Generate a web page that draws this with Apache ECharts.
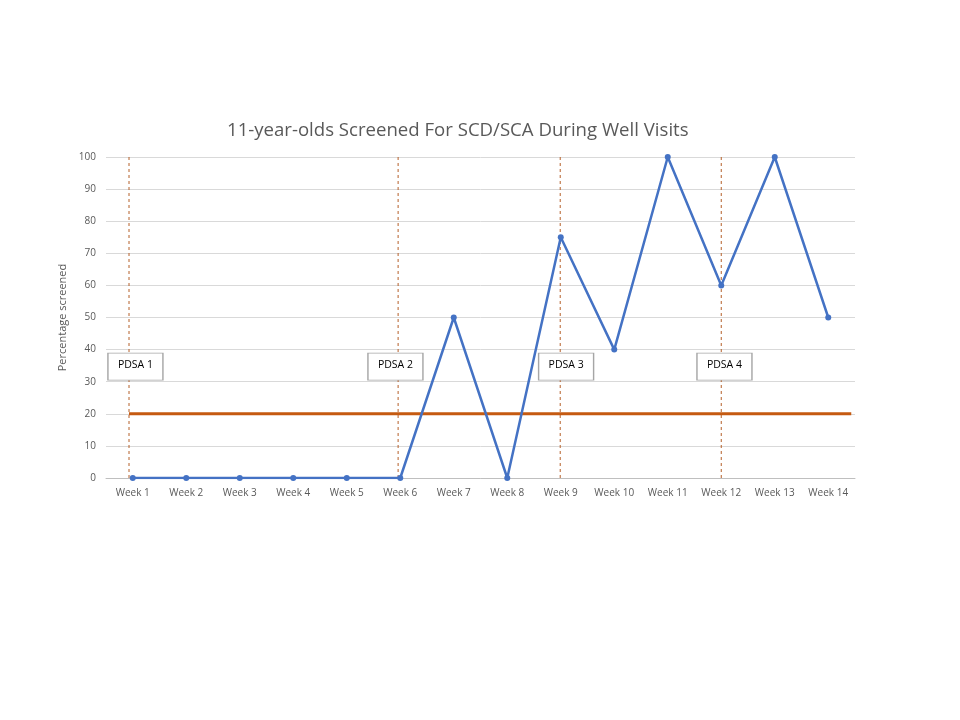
<!DOCTYPE html>
<html>
<head>
<meta charset="utf-8">
<script src="https://cdn.jsdelivr.net/npm/echarts@6/dist/echarts.min.js"></script>
<style>html,body{margin:0;padding:0;background:#fff;}#c{width:960px;height:720px;}</style>
</head>
<body>
<div id="c"></div>
<script>
const titleText = '11-year-olds Screened For SCD/SCA During Well Visits';
const weeks = ['Week 1','Week 2','Week 3','Week 4','Week 5','Week 6','Week 7','Week 8','Week 9','Week 10','Week 11','Week 12','Week 13','Week 14'];
const screened = [0,0,0,0,0,0,50,0,75,40,100,60,100,50];
const goalValue = 20;
const goalStartEnd = [0.43, 13.93];           // positions on the hidden 0..14 week axis
const pdsaLabels = ['PDSA 1','PDSA 2','PDSA 3','PDSA 4'];
const pdsaLinePos = [0.43, 5.46, 8.49, 11.5];  // vertical dashed lines
const pdsaBoxX = [0.55, 5.41, 8.6, 11.56];     // label box centres
const pdsaBoxY = [34.7, 34.7, 34.7, 34.7];
const yTicks = [0,10,20,30,40,50,60,70,80,90,100];

const chart = echarts.init(document.getElementById('c'));
const font = '"Open Sans", "Noto Sans", sans-serif';
const series = [
  {
    type: 'line', name: 'Screened', data: screened,
    xAxisIndex: 0, yAxisIndex: 0,
    lineStyle: {color: '#4472C4', width: 2.5},
    itemStyle: {color: '#4472C4'},
    symbol: 'circle', symbolSize: 6, z: 5
  },
  {
    type: 'line', name: 'Goal', xAxisIndex: 1, yAxisIndex: 0,
    data: goalStartEnd.map(x => [x, goalValue]),
    lineStyle: {color: '#C55A11', width: 3}, symbol: 'none', z: 4
  }
];
pdsaLinePos.forEach((p, i) => {
  series.push({
    type: 'line', xAxisIndex: 1, yAxisIndex: 0,
    data: [[p, 0], [p, 100.5]],
    lineStyle: {color: '#B5602A', width: 1, type: [3, 3]}, symbol: 'none', z: 3
  });
});
series.push({
  type: 'scatter', xAxisIndex: 1, yAxisIndex: 0,
  data: pdsaBoxX.map((x, i) => ({value: [x, pdsaBoxY[i]], name: pdsaLabels[i]})),
  symbol: 'rect', symbolSize: [55, 27],
  itemStyle: {color: '#ffffff', borderColor: '#A6A6A6', borderWidth: 1, opacity: 1},
  label: {show: true, position: 'inside', formatter: p => p.name, color: '#000', fontSize: 10.5, fontFamily: font, offset: [0, -2]},
  z: 10, silent: true
});

chart.setOption({
  animation: false,
  backgroundColor: '#ffffff',
  title: {
    text: titleText, left: 222, top: 116,
    textStyle: {color: '#595959', fontSize: 18.6, fontWeight: 'normal', fontFamily: font}
  },
  grid: {left: 106, right: 105, top: 157, bottom: 242},
  xAxis: [
    {
      type: 'category', data: weeks, boundaryGap: true,
      axisLine: {lineStyle: {color: '#BFBFBF'}},
      axisTick: {show: false},
      axisLabel: {color: '#595959', fontSize: 10, fontFamily: font, margin: 10, interval: 0}
    },
    {type: 'value', min: 0, max: 14, show: false}
  ],
  yAxis: {
    type: 'value', min: 0, max: 100, interval: 10,
    name: 'Percentage screened', nameLocation: 'middle', nameGap: 34,
    nameTextStyle: {color: '#595959', fontSize: 11, fontFamily: font},
    axisLine: {show: false}, axisTick: {show: false},
    axisLabel: {color: '#595959', fontSize: 10, fontFamily: font, margin: 10,
      formatter: v => yTicks.includes(v) ? String(v) : ''},
    splitLine: {lineStyle: {color: '#D9D9D9'}}
  },
  series: series
});
</script>
</body>
</html>
